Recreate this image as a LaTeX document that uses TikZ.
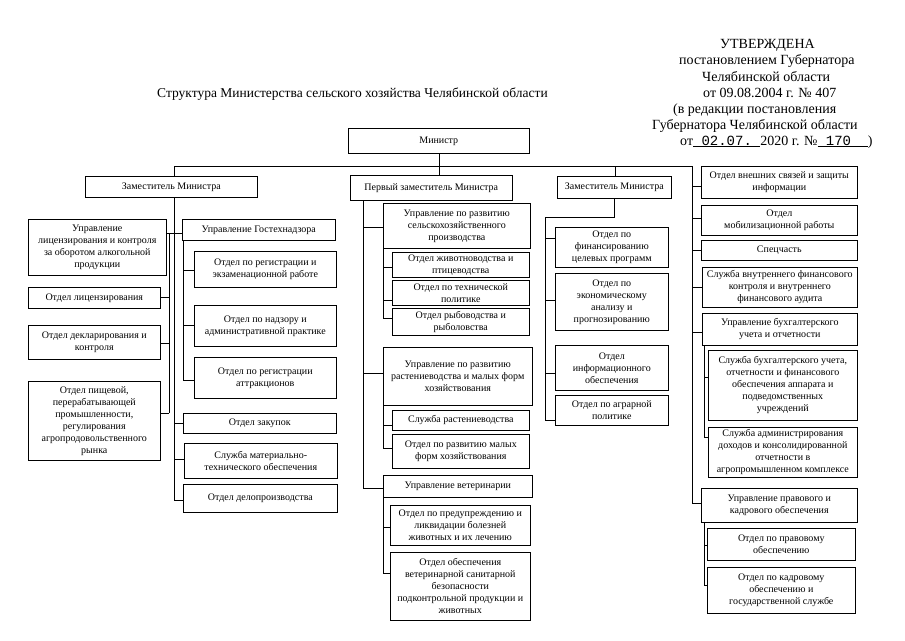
\documentclass[tikz,border=0pt]{standalone}
\usepackage{fontspec}
\setmainfont{Liberation Serif}
\setmonofont{Liberation Mono}
\newcommand\mybox[6]{\node[box,anchor=north west,minimum width={#4-#2},minimum height={#5-#3}] (#1) at (#2,#3) {#6};}
\newcommand\myconn[3]{\draw[ln] (#1,#2) -- (#1,#2 -| #3.west);}
\newcommand\myconnl[3]{\draw[ln] (#1,#2) -- (#1,#2 -| #3.east);}
\begin{document}
\begin{tikzpicture}[x=1pt,y=-1pt,
  box/.style={draw,line width=0.6pt,inner sep=1pt,align=center,font=\fontsize{10}{12}\selectfont},
  hdr/.style={anchor=base west,inner sep=0pt,font=\fontsize{14}{16}\selectfont},
  ln/.style={line width=0.6pt}]
\useasboundingbox (0,0) rectangle (905,640);
\fill[white] (0,0) rectangle (905,640);

% header
\node[hdr] (h1) at (720,48) {УТВЕРЖДЕНА};
\node[hdr] (h2) at (679,64.5) {постановлением Губернатора};
\node[hdr] (h3) at (702,81) {Челябинской области};
\node[hdr] (h4) at (703,97) {от 09.08.2004 г. № 407};
\node[hdr] (h5) at (673,113) {(в редакции постановления};
\node[hdr] (h6) at (652,129) {Губернатора Челябинской области};
\node[hdr] (h7) at (680,145) {от\underline{\texttt{~02.07.~}}2020 г. №\underline{\texttt{~170~~}})};
\node[anchor=base west,inner sep=0pt,font=\fontsize{13.5}{16}\selectfont] (title) at (157,97) {Структура Министерства сельского хозяйства Челябинской области};

% top
\mybox{M}{348}{128}{529}{153}{Министр}

% column 1
\mybox{D1}{85}{176}{257}{197}{Заместитель Министра}
\mybox{UL}{28}{219}{166}{275}{Управление\\лицензирования и контроля\\за оборотом алкогольной\\продукции}
\mybox{OL}{28}{287}{160}{308}{Отдел лицензирования}
\mybox{OD}{28}{325}{160}{359}{Отдел декларирования и\\контроля}
\mybox{OP}{28}{381}{160}{460}{Отдел пищевой,\\перерабатывающей\\промышленности,\\регулирования\\агропродовольственного\\рынка}
\mybox{UG}{182}{219}{335}{240}{Управление Гостехнадзора}
\mybox{OR1}{194}{251}{336}{287}{Отдел по регистрации и\\экзаменационной работе}
\mybox{ON}{194}{305}{336}{346}{Отдел по надзору и\\административной практике}
\mybox{OR2}{194}{357}{336}{398}{Отдел по регистрации\\аттракционов}
\mybox{OZ}{183}{413}{336}{433}{Отдел закупок}
\mybox{SM}{184}{443}{337}{478}{Служба материально-\\технического обеспечения}
\mybox{ODP}{183}{484}{337}{512}{Отдел делопроизводства}

% column 2
\mybox{P1}{350}{175}{512}{200}{Первый заместитель Министра}
\mybox{URS}{383}{203}{530}{248}{Управление по развитию\\сельскохозяйственного\\производства}
\mybox{OZh}{392}{252}{529}{277}{Отдел животноводства и\\птицеводства}
\mybox{OT}{392}{280}{529}{305}{Отдел по технической\\политике}
\mybox{ORy}{392}{308}{529}{335}{Отдел рыбоводства и\\рыболовства}
\mybox{URR}{383}{347}{532}{405}{Управление по развитию\\растениеводства и малых форм\\хозяйствования}
\mybox{SR}{392}{410}{529}{430}{Служба растениеводства}
\mybox{OMF}{392}{434}{529}{468}{Отдел по развитию малых\\форм хозяйствования}
\mybox{UV}{383}{475}{532}{497}{Управление ветеринарии}
\mybox{OPr}{390}{505}{530}{545}{Отдел по предупреждению и\\ликвидации болезней\\животных и их лечению}
\mybox{OO}{390}{552}{530}{620}{Отдел обеспечения\\ветеринарной санитарной\\безопасности\\подконтрольной продукции и\\животных}

% column 3
\mybox{D2}{557}{176}{671}{198}{Заместитель Министра}
\mybox{OF}{555}{227}{668}{267}{Отдел по\\финансированию\\целевых программ}
\mybox{OE}{555}{273}{668}{330}{Отдел по\\экономическому\\анализу и\\прогнозированию}
\mybox{OI}{555}{345}{668}{390}{Отдел\\информационного\\обеспечения}
\mybox{OA}{555}{395}{668}{425}{Отдел по аграрной\\политике}

% right column
\mybox{R1}{701}{166}{857}{198}{Отдел внешних связей и защиты\\информации}
\mybox{R2}{701}{205}{857}{235}{Отдел\\мобилизационной работы}
\mybox{R3}{701}{240}{857}{260}{Спецчасть}
\mybox{R4}{702}{267}{857}{307}{Служба внутреннего финансового\\контроля и внутреннего\\финансового аудита}
\mybox{R5}{702}{313}{857}{345}{Управление бухгалтерского\\учета и отчетности}
\mybox{R6}{708}{350}{857}{420}{Служба бухгалтерского учета,\\отчетности и финансового\\обеспечения аппарата и\\подведомственных\\учреждений}
\mybox{R7}{708}{427}{857}{477}{Служба администрирования\\доходов и консолидированной\\отчетности в\\агропромышленном комплексе}
\mybox{R8}{701}{488}{857}{522}{Управление правового и\\кадрового обеспечения}
\mybox{R9}{707}{528}{855}{560}{Отдел по правовому\\обеспечению}
\mybox{R10}{707}{567}{855}{613}{Отдел по кадровому\\обеспечению и\\государственной службе}

% connectors: top
\coordinate (busL) at (174,166);
\coordinate (busR) at (692,166);
\draw[ln] (busL) -- (busR);
\draw[ln] (M.south) -- (M.south |- P1.north);
\draw[ln] (busL) -- (busL |- D1.north);
\draw[ln] (615,166) -- (615,166 |- D2.north);

% column 1
\draw[ln] (174,197) -- (174,500);
\draw[ln] (UL.east |- 0,233) -- (UG.west |- 0,233);
\draw[ln] (169,233) -- (169,413);
\myconnl{169}{297}{OL}
\myconnl{169}{343}{OD}
\myconnl{169}{413}{OP}
\draw[ln] (183,240) -- (183,380);
\myconn{183}{270}{OR1}
\myconn{183}{325}{ON}
\myconn{183}{380}{OR2}
\myconn{174}{423}{OZ}
\myconn{174}{459}{SM}
\myconn{174}{500}{ODP}

% column 2
\draw[ln] (363,200) -- (363,488);
\myconn{363}{227}{URS}
\myconn{363}{373}{URR}
\myconn{363}{488}{UV}
\draw[ln] (383,248) -- (383,318);
\myconn{383}{267}{OZh}
\myconn{383}{300}{OT}
\myconn{383}{318}{ORy}
\draw[ln] (383,405) -- (383,448);
\myconn{383}{425}{SR}
\myconn{383}{448}{OMF}
\draw[ln] (383,497) -- (383,573);
\myconn{383}{527}{OPr}
\myconn{383}{573}{OO}

% column 3
\draw[ln] (D2.south |- 0,198) -- (D2.south |- 0,217) -- (545,217) -- (545,420);
\myconn{545}{238}{OF}
\myconn{545}{300}{OE}
\myconn{545}{373}{OI}
\myconn{545}{420}{OA}

% right column
\draw[ln] (busR) -- (692,503);
\myconn{692}{186}{R1}
\myconn{692}{218}{R2}
\myconn{692}{250}{R3}
\myconn{692}{287}{R4}
\myconn{692}{332}{R5}
\myconn{692}{503}{R8}
\draw[ln] (704,345) -- (704,437);
\myconn{704}{377}{R6}
\myconn{704}{437}{R7}
\draw[ln] (704,522) -- (704,585);
\myconn{704}{545}{R9}
\myconn{704}{585}{R10}
\end{tikzpicture}
\end{document}
